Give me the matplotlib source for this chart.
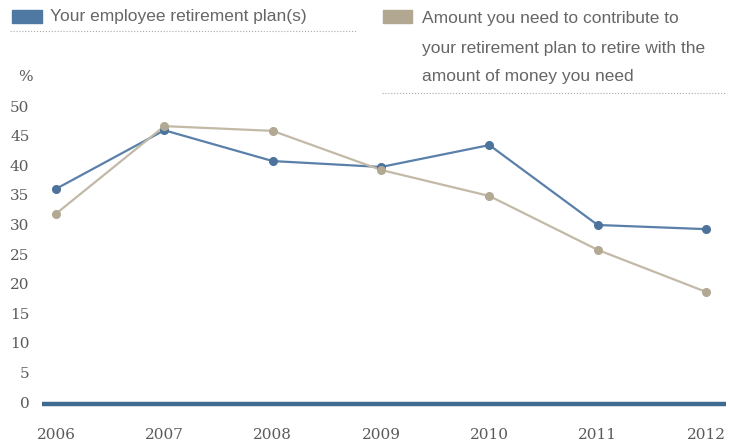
import numpy as np
import matplotlib
matplotlib.use("Agg")
from matplotlib import pyplot as plt
from matplotlib.patches import Rectangle
from matplotlib.lines import Line2D

# Data ##################################################################
years = [2006, 2007, 2008, 2009, 2010, 2011, 2012]
employee_plan = [36.0, 45.9, 40.7, 39.7, 43.4, 29.9, 29.2]
need_to_contribute = [31.8, 46.6, 45.8, 39.2, 34.8, 25.7, 18.6]
yticks = [0, 5, 10, 15, 20, 25, 30, 35, 40, 45, 50]
label_blue = "Your employee retirement plan(s)"
label_tan = ["Amount you need to contribute to",
             "your retirement plan to retire with the",
             "amount of money you need"]

blue = "#5a80a9"
blue_dk = "#4d739c"
tan = "#c2b9a7"
tan_dk = "#b3a993"
axis_blue = "#3f6a92"
txt = "#5a5a5a"
leg_txt = "#666666"

W, H = 730, 442
fig = plt.figure(figsize=(W/100, H/100), dpi=100)
ax = fig.add_axes([42/W, 1-402/H, (726-42)/W, (402-106)/H])

ax.plot(years, employee_plan, '-', color=blue, lw=1.6, zorder=3)
ax.plot(years, employee_plan, 'o', color=blue_dk, ms=5.5, zorder=4)
ax.plot(years, need_to_contribute, '-', color=tan, lw=1.6, zorder=3)
ax.plot(years, need_to_contribute, 'o', color=tan_dk, ms=5.5, zorder=4)

ax.set_xlim(2006 - 14/108.33, 2012 + 20/108.33)
ax.set_ylim(0, 50)
ax.axhline(-0.35, color=axis_blue, lw=3.2, clip_on=False, zorder=2,
           solid_capstyle='butt')

for s in ax.spines.values():
    s.set_visible(False)
ax.set_xticks(years)
ax.set_xticklabels([str(y) for y in years])
ax.set_yticks(yticks)
ax.tick_params(length=0, labelsize=11, labelcolor=txt)
ax.tick_params(axis='x', pad=19)
ax.tick_params(axis='y', pad=9)
for lab in ax.get_xticklabels() + ax.get_yticklabels():
    lab.set_family("DejaVu Serif")

fig.text(33/W, 1-77/H, "%", ha='right', va='center', fontsize=11,
         color=txt, family="DejaVu Serif")

# Legend ################################################################
fig.patches.append(Rectangle((12/W, 1-23/H), 30/W, 13/H, color="#4f78a2",
                             transform=fig.transFigure, figure=fig))
fig.text(50/W, 1-17/H, label_blue, ha='left', va='center', fontsize=12.5,
         color=leg_txt, family="Liberation Sans")
fig.lines.append(Line2D([10/W, 357/W], [1-31/H, 1-31/H], ls=':', lw=0.8,
                        color="#aaaaaa", transform=fig.transFigure, figure=fig))

fig.patches.append(Rectangle((383/W, 1-23/H), 29/W, 13/H, color="#b2a892",
                             transform=fig.transFigure, figure=fig))
for i, line in enumerate(label_tan):
    fig.text(422/W, 1-(19+29*i)/H, line, ha='left', va='center',
             fontsize=12.5, color=leg_txt, family="Liberation Sans")
fig.lines.append(Line2D([382/W, 725/W], [1-93/H, 1-93/H], ls=':', lw=0.8,
                        color="#aaaaaa", transform=fig.transFigure, figure=fig))

plt.savefig("out.png", dpi=100)
